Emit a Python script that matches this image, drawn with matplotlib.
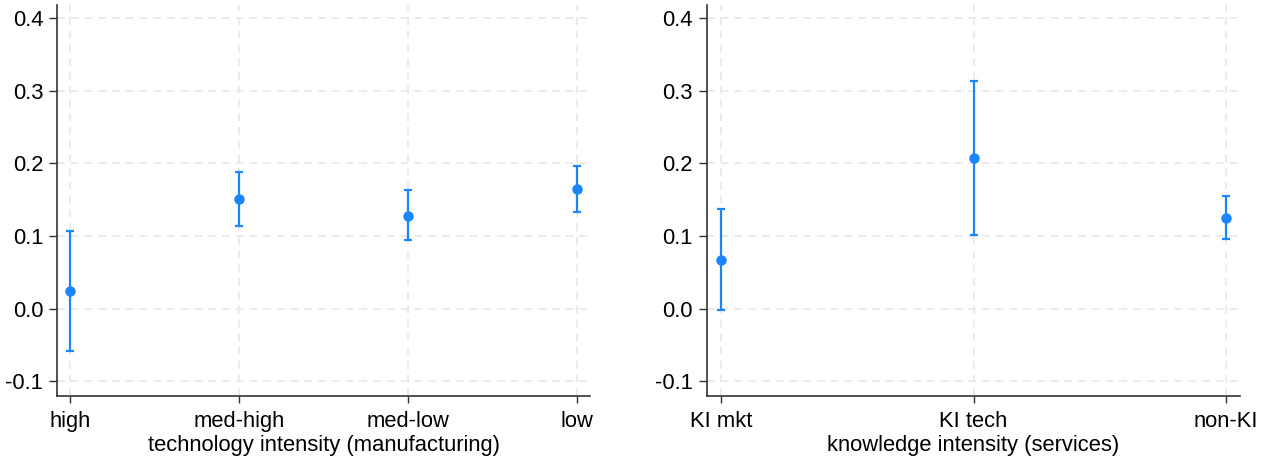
import matplotlib
matplotlib.use("Agg")
import matplotlib.pyplot as plt

plt.rcParams["font.family"] = ["Liberation Sans", "DejaVu Sans"]

# manufacturing: technology intensity
tech_labels = ["high", "med-high", "med-low", "low"]
tech_est = [0.025, 0.151, 0.128, 0.165]
tech_lo = [-0.058, 0.114, 0.094, 0.133]
tech_hi = [0.107, 0.188, 0.164, 0.196]

# services: knowledge intensity
know_labels = ["KI mkt", "KI tech", "non-KI"]
know_est = [0.067, 0.208, 0.125]
know_lo = [-0.002, 0.102, 0.096]
know_hi = [0.137, 0.314, 0.155]

yticks = [-0.1, 0.0, 0.1, 0.2, 0.3, 0.4]
blue = "#1a85ff"
grid_col = "#e6e6e6"

fig = plt.figure(figsize=(12.7, 4.63), dpi=100)
ax1 = fig.add_axes([0.0449, 0.1447, 0.4197, 0.8445])
ax2 = fig.add_axes([0.5567, 0.1447, 0.4197, 0.8445])


def coefplot(ax, labels, est, lo, hi, xlabel, pad):
    x = list(range(len(labels)))
    yerr = [[e - l for e, l in zip(est, lo)], [h - e for e, h in zip(est, hi)]]
    ax.errorbar(x, est, yerr=yerr, fmt="o", color=blue, ecolor=blue,
                markersize=6.5, elinewidth=1.6, capsize=3.2, capthick=1.6,
                zorder=3)
    ax.set_xlim(-pad, len(labels) - 1 + pad)
    ax.set_ylim(-0.12, 0.418)
    ax.set_xticks(x)
    ax.set_xticklabels(labels)
    ax.set_yticks(yticks)
    ax.set_yticklabels([f"{t:.1f}" for t in yticks])
    ax.set_xlabel(xlabel, fontsize=15.8, labelpad=2)
    ax.grid(True, color=grid_col, linestyle=(0, (5, 4)), linewidth=1.1)
    ax.set_axisbelow(True)
    for side in ("top", "right"):
        ax.spines[side].set_visible(False)
    for side in ("left", "bottom"):
        ax.spines[side].set_linewidth(1.2)
        ax.spines[side].set_color("#333333")
    ax.tick_params(axis="both", colors="#333333", labelcolor="black",
                   width=1.0, labelsize=15.8)
    ax.tick_params(axis="y", length=6, pad=4)
    ax.tick_params(axis="x", length=5, pad=6)


coefplot(ax1, tech_labels, tech_est, tech_lo, tech_hi,
         "technology intensity (manufacturing)", 0.077)
coefplot(ax2, know_labels, know_est, know_lo, know_hi,
         "knowledge intensity (services)", 0.055)

fig.savefig("out.png", dpi=100)
